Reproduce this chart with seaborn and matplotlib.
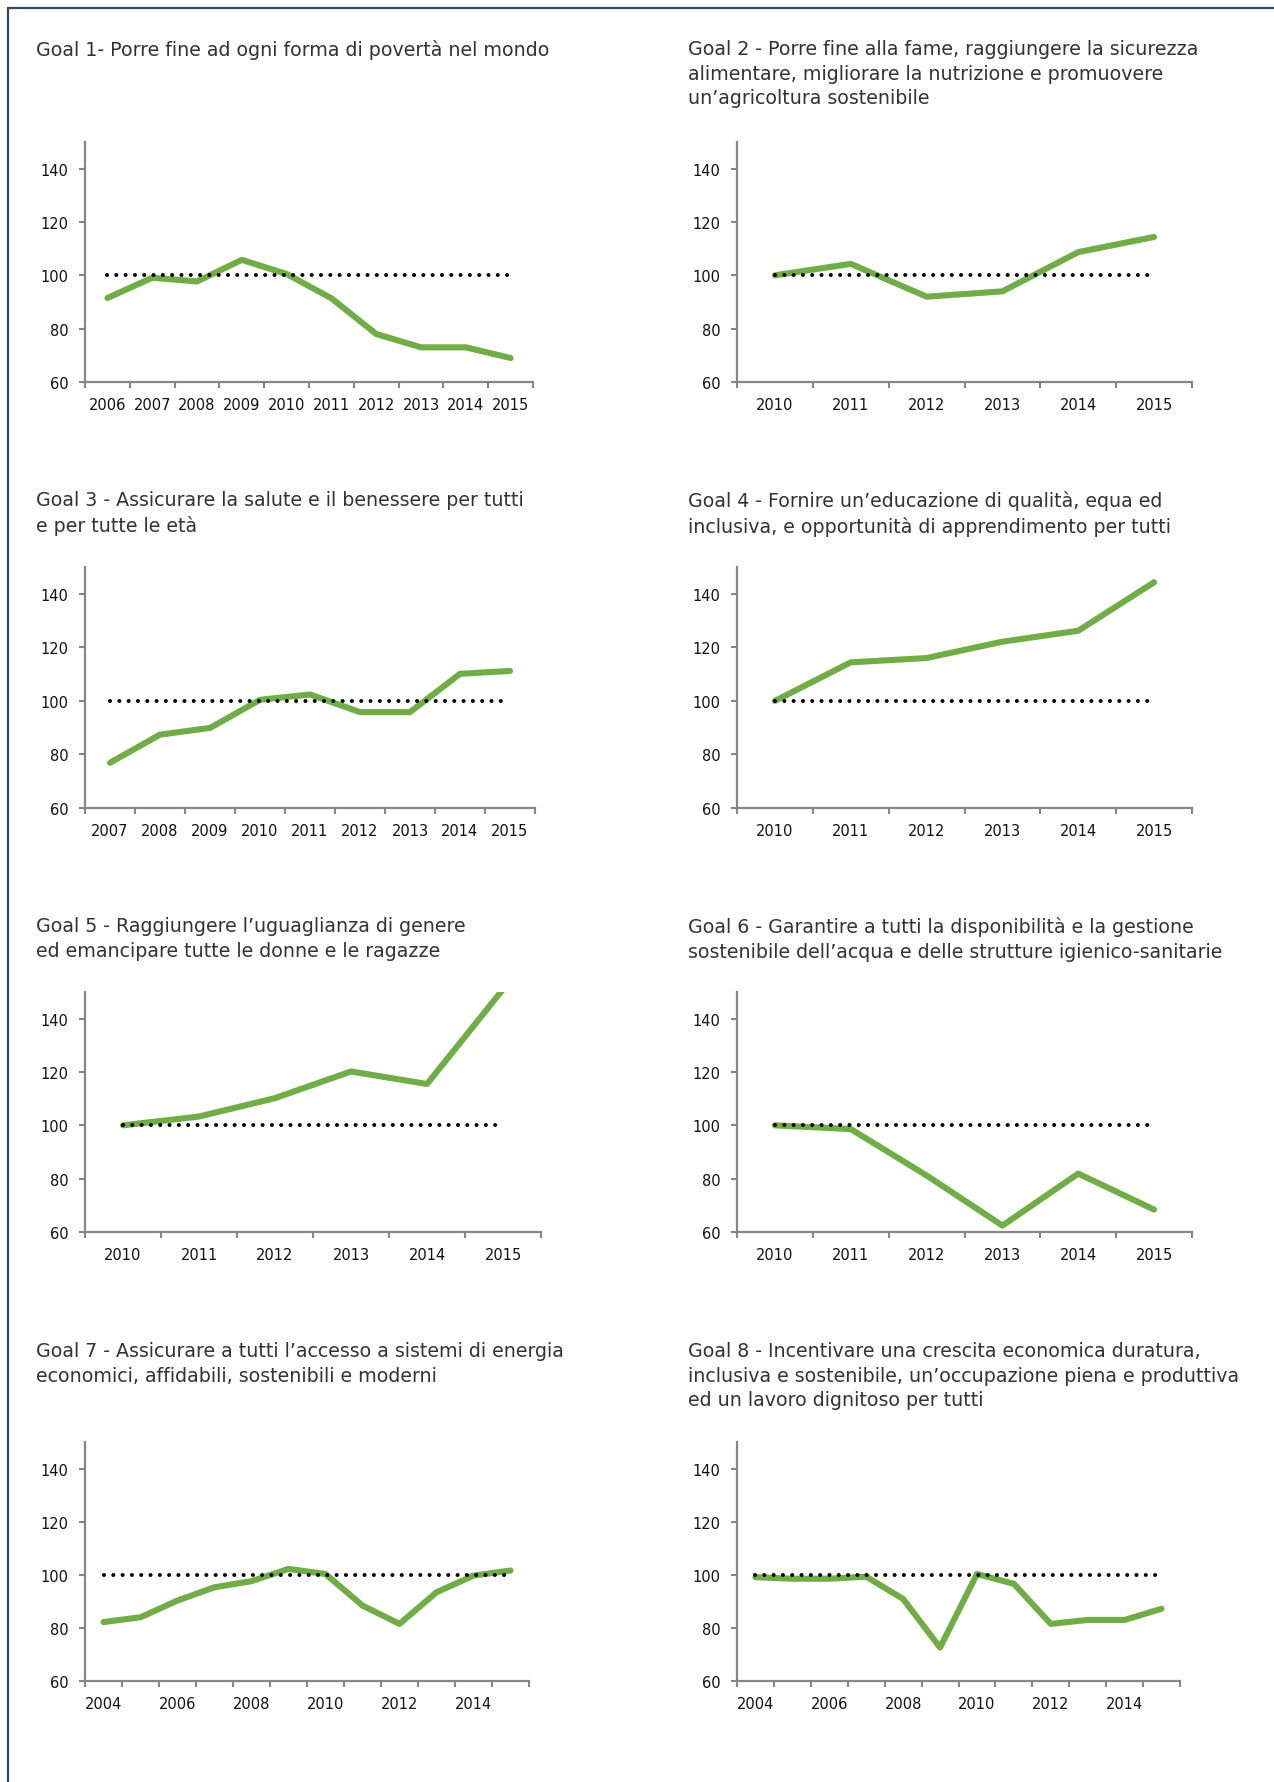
import matplotlib
matplotlib.use("Agg")
import matplotlib.pyplot as plt
import seaborn as sns
import pandas as pd
from matplotlib.lines import Line2D
from matplotlib.ticker import FixedLocator

# data (index, 100 = reference year)
years_g1 = [2006, 2007, 2008, 2009, 2010, 2011, 2012, 2013, 2014, 2015]
goal1 = [91.5, 99.1, 97.7, 105.8, 100.5, 91.4, 78.0, 73.0, 73.0, 69.0]

years_g2 = [2010, 2011, 2012, 2013, 2014, 2015]
goal2 = [100.0, 104.3, 92.0, 94.0, 108.7, 114.4]

years_g3 = [2007, 2008, 2009, 2010, 2011, 2012, 2013, 2014, 2015]
goal3 = [76.9, 87.4, 89.9, 100.4, 102.4, 95.8, 95.8, 110.1, 111.2]

years_g4 = [2010, 2011, 2012, 2013, 2014, 2015]
goal4 = [100.0, 114.4, 116.0, 122.1, 126.2, 144.3]

years_g5 = [2010, 2011, 2012, 2013, 2014, 2015]
goal5 = [100.0, 103.3, 110.2, 120.2, 115.5, 151.0]

years_g6 = [2010, 2011, 2012, 2013, 2014, 2015]
goal6 = [100.0, 98.6, 81.2, 62.4, 81.9, 68.4]

years_g7 = [2004, 2005, 2006, 2007, 2008, 2009, 2010, 2011, 2012, 2013, 2014, 2015]
goal7 = [82.2, 84.0, 90.3, 95.3, 97.6, 102.2, 100.3, 88.4, 81.5, 93.4, 99.7, 101.6]

years_g8 = [2004, 2005, 2006, 2007, 2008, 2009, 2010, 2011, 2012, 2013, 2014, 2015]
goal8 = [99.1, 98.5, 98.5, 99.3, 90.9, 72.6, 100.3, 96.6, 81.5, 83.0, 83.0, 87.2]

baseline = 100

titles = [
    "Goal 1- Porre fine ad ogni forma di povertà nel mondo",
    "Goal 2 - Porre fine alla fame, raggiungere la sicurezza\nalimentare, migliorare la nutrizione e promuovere\nun\u2019agricoltura sostenibile",
    "Goal 3 - Assicurare la salute e il benessere per tutti\ne per tutte le età",
    "Goal 4 - Fornire un\u2019educazione di qualità, equa ed\ninclusiva, e opportunità di apprendimento per tutti",
    "Goal 5 - Raggiungere l\u2019uguaglianza di genere\ned emancipare tutte le donne e le ragazze",
    "Goal 6 - Garantire a tutti la disponibilità e la gestione\nsostenibile dell\u2019acqua e delle strutture igienico-sanitarie",
    "Goal 7 - Assicurare a tutti l\u2019accesso a sistemi di energia\neconomici, affidabili, sostenibili e moderni",
    "Goal 8 - Incentivare una crescita economica duratura,\ninclusiva e sostenibile, un\u2019occupazione piena e produttiva\ned un lavoro dignitoso per tutti",
]

panels = [
    (years_g1, goal1), (years_g2, goal2), (years_g3, goal3), (years_g4, goal4),
    (years_g5, goal5), (years_g6, goal6), (years_g7, goal7), (years_g8, goal8),
]

sns.set_theme(style="white")
plt.rcParams["font.family"] = ["DejaVu Sans"]

W, H = 1274, 1783
fig = plt.figure(figsize=(W / 100, H / 100), dpi=100)

# pixel boxes: left, right, top, bottom
boxes = [
    (85, 533, 143, 383), (737, 1192, 143, 383),
    (85, 535, 568, 809), (737, 1192, 568, 809),
    (85, 541, 993, 1233), (737, 1192, 993, 1233),
    (85, 529, 1443, 1682), (737, 1180, 1443, 1682),
]
title_y = [40, 40, 491, 491, 917, 917, 1342, 1342]
title_x = [36, 688]

green = "#70AD47"
axis_grey = "#868686"

for i, ((yrs, vals), (l, r, t, b)) in enumerate(zip(panels, boxes)):
    ax = fig.add_axes([l / W, 1 - b / H, (r - l) / W, (b - t) / H])
    df = pd.DataFrame({"year": yrs, "value": vals, "ref": [baseline] * len(yrs)})
    sns.lineplot(data=df, x="year", y="value", ax=ax, color=green, lw=4.4,
                 solid_capstyle="round", solid_joinstyle="round")
    sns.lineplot(data=df, x="year", y="ref", ax=ax, color="black", lw=2.9,
                 linestyle=(0, (0.01, 2.3)), dash_capstyle="round")
    ax.set_xlim(yrs[0] - 0.5, yrs[-1] + 0.5)
    ax.set_ylim(60, 150)
    ax.set_yticks([60, 80, 100, 120, 140])
    if len(yrs) >= 12:
        ax.set_xticks(yrs[::2])
    else:
        ax.set_xticks(yrs)
    ax.xaxis.set_minor_locator(FixedLocator([y - 0.5 for y in yrs] + [yrs[-1] + 0.5]))
    ax.set_xlabel("")
    ax.set_ylabel("")
    ax.tick_params(axis="x", which="major", length=0, pad=11, labelsize=10.5, labelcolor="#111111")
    ax.tick_params(axis="x", which="minor", length=4, width=1.5, color=axis_grey, direction="out", bottom=True)
    ax.tick_params(axis="y", length=4, width=1.5, color=axis_grey, direction="out", left=True,
                   pad=8, labelsize=10.5, labelcolor="#111111")
    for s in ["top", "right"]:
        ax.spines[s].set_visible(False)
    for s in ["left", "bottom"]:
        ax.spines[s].set_color(axis_grey)
        ax.spines[s].set_linewidth(1.6)
    fig.text(title_x[i % 2] / W, 1 - title_y[i] / H, titles[i], ha="left", va="top",
             fontsize=13.7, color="#333333", linespacing=1.38)

# frame lines at top and left edge
fig.add_artist(Line2D([8 / W, 1], [1 - 9 / H, 1 - 9 / H], color="#34495E", lw=1.6))
fig.add_artist(Line2D([8 / W, 8 / W], [0, 1 - 9 / H], color="#34495E", lw=1.6))

fig.savefig("out.png", dpi=100, facecolor="white")
